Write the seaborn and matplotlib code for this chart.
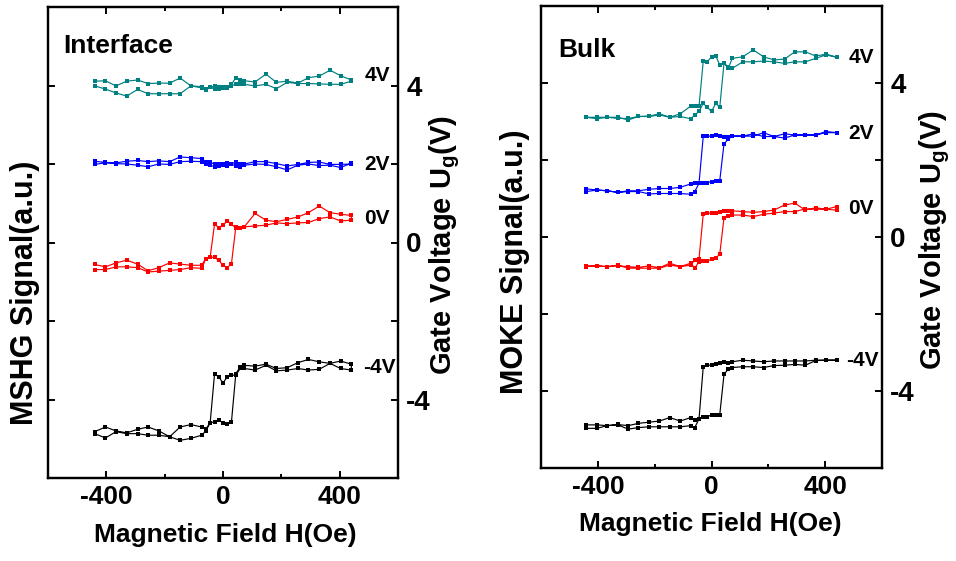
import matplotlib
matplotlib.use("Agg")
import matplotlib.pyplot as plt
import seaborn as sns
import pandas as pd

# ---------------- data ----------------
H_FIELD = [-440, -403, -367, -330, -293, -257, -220, -183, -147, -110, -73, -59, -44, -29, -15,
           0, 15, 29, 44, 59, 73, 110, 147, 183, 220, 257, 293, 330, 367, 403, 440]

# Interface (MSHG) - branches listed in ascending field order
IF_4V_A = [4.11, 4.12, 3.99, 4.11, 4.14, 4.05, 4.06, 4.06, 4.19, 3.99, 3.97, 3.92, 3.97, 3.90, 3.95,
           3.94, 3.97, 4.03, 4.20, 4.13, 4.12, 4.09, 4.29, 4.08, 4.11, 4.06, 4.20, 4.24, 4.39, 4.25, 4.14]
IF_4V_B = [3.99, 3.91, 3.81, 3.73, 3.90, 3.79, 3.79, 3.79, 3.79, 3.99, 3.94, 3.88, 3.95, 3.99, 3.92,
           3.97, 3.93, 3.99, 4.03, 4.05, 4.03, 3.99, 4.03, 3.92, 4.08, 4.05, 4.05, 4.04, 4.03, 4.03, 4.11]
IF_2V_A = [2.07, 2.04, 2.03, 2.07, 2.09, 2.06, 2.08, 2.06, 2.18, 2.16, 2.14, 2.06, 2.04, 2.00, 1.95,
           1.99, 2.03, 2.00, 2.06, 2.00, 2.00, 2.06, 2.06, 2.01, 1.95, 1.99, 2.04, 2.05, 1.99, 1.99, 2.00]
IF_2V_B = [1.99, 2.03, 2.01, 2.00, 1.97, 1.93, 2.00, 1.99, 2.06, 2.07, 2.06, 2.01, 1.97, 1.93, 1.99,
           1.97, 1.95, 1.99, 1.96, 1.93, 1.97, 2.00, 1.99, 1.93, 1.85, 1.97, 2.00, 1.96, 1.97, 1.91, 2.02]
IF_0V_UP = [-0.56, -0.62, -0.52, -0.45, -0.55, -0.72, -0.64, -0.52, -0.55, -0.58, -0.58, -0.41, -0.37, -0.38, -0.45,
            -0.58, -0.64, -0.54, 0.40, 0.37, 0.40, 0.74, 0.57, 0.53, 0.59, 0.65, 0.76, 0.93, 0.76, 0.72, 0.69]
IF_0V_DOWN = [-0.69, -0.69, -0.62, -0.62, -0.64, -0.75, -0.73, -0.71, -0.69, -0.64, -0.66, -0.41, -0.37, 0.47, 0.38,
              0.44, 0.55, 0.47, 0.36, 0.38, 0.40, 0.42, 0.44, 0.50, 0.48, 0.50, 0.51, 0.61, 0.65, 0.55, 0.57]
IF_M4V_UP = [-4.82, -4.70, -4.80, -4.85, -4.76, -4.70, -4.80, -4.95, -4.70, -4.64, -4.70, -4.76, -4.59, -4.57, -4.53,
             -4.59, -4.63, -4.57, -3.34, -3.17, -3.13, -3.15, -3.10, -3.21, -3.19, -3.06, -2.98, -3.04, -3.08, -3.02, -3.10]
IF_M4V_DOWN = [-4.87, -4.98, -4.82, -4.87, -4.87, -4.91, -4.91, -4.95, -5.04, -4.99, -4.91, -4.80, -4.59, -3.35, -3.42,
               -3.58, -3.42, -3.38, -3.38, -3.21, -3.21, -3.25, -3.13, -3.27, -3.25, -3.21, -3.25, -3.23, -3.08, -3.21, -3.25]

# Bulk (MOKE)
BK_4V_UP = [3.11, 3.07, 3.11, 3.11, 3.04, 3.13, 3.13, 3.17, 3.11, 3.13, 3.07, 3.17, 3.26, 3.47, 3.37,
            3.26, 3.47, 3.37, 4.51, 4.42, 4.38, 4.55, 4.55, 4.57, 4.55, 4.51, 4.55, 4.55, 4.64, 4.73, 4.67]
BK_4V_DOWN = [3.11, 3.11, 3.11, 3.08, 3.08, 3.13, 3.14, 3.20, 3.11, 3.20, 3.40, 3.40, 3.39, 4.57, 4.55,
              4.68, 4.70, 4.47, 4.53, 4.38, 4.64, 4.68, 4.86, 4.68, 4.60, 4.62, 4.81, 4.81, 4.70, 4.75, 4.67]
BK_2V_UP = [1.25, 1.22, 1.20, 1.16, 1.18, 1.18, 1.12, 1.13, 1.13, 1.13, 1.11, 1.18, 1.39, 1.41, 1.41,
            1.44, 1.46, 1.46, 2.42, 2.54, 2.62, 2.62, 2.62, 2.71, 2.61, 2.68, 2.65, 2.65, 2.65, 2.74, 2.71]
BK_2V_DOWN = [1.18, 1.22, 1.20, 1.16, 1.20, 1.20, 1.24, 1.26, 1.26, 1.29, 1.38, 1.39, 1.39, 2.62, 2.62,
              2.62, 2.65, 2.62, 2.61, 2.61, 2.62, 2.62, 2.68, 2.61, 2.61, 2.57, 2.65, 2.65, 2.65, 2.71, 2.71]
BK_0V_UP = [-0.75, -0.75, -0.77, -0.75, -0.77, -0.79, -0.75, -0.80, -0.68, -0.77, -0.68, -0.81, -0.64, -0.62, -0.62,
            -0.58, -0.54, -0.45, 0.50, 0.55, 0.57, 0.57, 0.53, 0.59, 0.62, 0.66, 0.66, 0.73, 0.72, 0.72, 0.70]
BK_0V_DOWN = [-0.77, -0.75, -0.77, -0.73, -0.81, -0.81, -0.81, -0.81, -0.73, -0.77, -0.73, -0.60, -0.57, 0.60, 0.62,
              0.62, 0.62, 0.64, 0.68, 0.68, 0.68, 0.66, 0.64, 0.66, 0.70, 0.83, 0.88, 0.70, 0.76, 0.72, 0.79]
BK_M4V_UP = [-4.97, -4.97, -4.90, -4.88, -4.99, -4.95, -4.93, -4.93, -4.93, -4.93, -4.90, -4.95, -4.73, -4.67, -4.67,
             -4.62, -4.62, -4.62, -3.57, -3.43, -3.39, -3.37, -3.37, -3.39, -3.34, -3.33, -3.31, -3.33, -3.21, -3.20, -3.20]
BK_M4V_DOWN = [-4.88, -4.88, -4.90, -4.87, -4.90, -4.84, -4.81, -4.78, -4.69, -4.78, -4.69, -4.75, -4.73, -3.37, -3.33,
               -3.33, -3.31, -3.28, -3.24, -3.28, -3.24, -3.20, -3.22, -3.24, -3.22, -3.22, -3.22, -3.22, -3.20, -3.20, -3.20]

GATE_LABELS = ["4V", "2V", "0V", "-4V"]
COLORS = ["#008080", "#0000FF", "#FF0000", "#000000"]
X_TICKS = [-400, 0, 400]
Y_TICKS = [-4, -2, 0, 2, 4]
Y_TICK_LABELS = ["-4", "", "0", "", "4"]

# ---------------- style ----------------
sns.set_style("ticks")
plt.rcParams["font.family"] = ["Liberation Sans", "DejaVu Sans"]
plt.rcParams["font.weight"] = "bold"
plt.rcParams["axes.unicode_minus"] = False
plt.rcParams["text.color"] = "black"
plt.rcParams["axes.labelcolor"] = "black"
plt.rcParams["axes.edgecolor"] = "black"
plt.rcParams["xtick.color"] = "black"
plt.rcParams["ytick.color"] = "black"
plt.rcParams["mathtext.fontset"] = "custom"
plt.rcParams["mathtext.rm"] = "Liberation Sans:bold"
plt.rcParams["mathtext.it"] = "Liberation Sans:bold"
plt.rcParams["mathtext.bf"] = "Liberation Sans:bold"
plt.rcParams["mathtext.default"] = "regular"

W, Hpx = 956, 561
fig = plt.figure(figsize=(W / 100, Hpx / 100), dpi=100)
axL = fig.add_axes([48 / W, 1 - 478 / Hpx, 350 / W, 471 / Hpx])
axR = fig.add_axes([541 / W, 1 - 468 / Hpx, 341 / W, 462 / Hpx])


def loop_frame(up, down):
    xs = list(H_FIELD) + list(H_FIELD)[::-1]
    ys = list(up) + list(down)[::-1]
    return pd.DataFrame({"H": xs, "y": ys})


def draw(ax, branches, label_pos):
    for (up, down), color, lab, (lx, ly) in zip(branches, COLORS, GATE_LABELS, label_pos):
        df = loop_frame(up, down)
        sns.lineplot(data=df, x="H", y="y", sort=False, estimator=None, ax=ax,
                     color=color, linewidth=0.85, marker="s", markersize=3.3,
                     markeredgewidth=0, markeredgecolor=color)
        ax.text(lx, ly, lab, ha="left", va="center", fontsize=15, fontweight="bold", color="black")
    ax.set_xlim(-600, 600)
    ax.set_ylim(-6, 6)
    ax.set_xticks(X_TICKS)
    ax.set_xticks([-200, 200], minor=True)
    ax.set_xticklabels([str(v) for v in X_TICKS])
    ax.set_yticks(Y_TICKS)
    ax.set_xlabel("")
    ax.set_ylabel("")
    ax.tick_params(axis="both", which="major", direction="in", length=5, width=1.4,
                   top=True, bottom=True, left=True, right=False, labelleft=False,
                   labelsize=19, pad=5, colors="black")
    ax.tick_params(axis="x", which="minor", direction="in", length=3, width=1.4, top=True, bottom=True)
    for s in ax.spines.values():
        s.set_linewidth(1.6)
        s.set_visible(True)
        s.set_color("black")
    tw = ax.twinx()
    tw.set_ylim(-6, 6)
    tw.set_yticks(Y_TICKS)
    tw.set_yticklabels(Y_TICK_LABELS)
    tw.tick_params(axis="y", direction="in", length=5, width=1.4, labelsize=20, pad=6, colors="black")
    for s in tw.spines.values():
        s.set_linewidth(1.6)
        s.set_color("black")
    return tw


draw(axL, [(IF_4V_A, IF_4V_B), (IF_2V_A, IF_2V_B), (IF_0V_UP, IF_0V_DOWN), (IF_M4V_UP, IF_M4V_DOWN)],
     [(485, 4.25), (485, 1.99), (485, 0.61), (479, -3.18)])
draw(axR, [(BK_4V_UP, BK_4V_DOWN), (BK_2V_UP, BK_2V_DOWN), (BK_0V_UP, BK_0V_DOWN), (BK_M4V_UP, BK_M4V_DOWN)],
     [(481, 4.65), (481, 2.70), (481, 0.75), (475, -3.22)])

# labels
fig.text(63 / W, 1 - 53 / Hpx, "Interface", fontsize=19, fontweight="bold", ha="left", va="baseline")
fig.text(558 / W, 1 - 57 / Hpx, "Bulk", fontsize=19, fontweight="bold", ha="left", va="baseline")
fig.text(225 / W, 1 - 535 / Hpx, "Magnetic Field H(Oe)", fontsize=19, fontweight="bold", ha="center", va="center")
fig.text(710 / W, 1 - 524 / Hpx, "Magnetic Field H(Oe)", fontsize=19, fontweight="bold", ha="center", va="center")
fig.text(25 / W, 1 - 293 / Hpx, "MSHG Signal(a.u.)", fontsize=22, fontweight="bold", rotation=90,
         ha="center", va="center")
fig.text(515 / W, 1 - 262 / Hpx, "MOKE Signal(a.u.)", fontsize=22, fontweight="bold", rotation=90,
         ha="center", va="center")
fig.text(445 / W, 1 - 245 / Hpx, "Gate Voltage U$_{g}$(V)", fontsize=21, fontweight="bold", rotation=90,
         ha="center", va="center")
fig.text(935 / W, 1 - 240 / Hpx, "Gate Voltage U$_{g}$(V)", fontsize=21, fontweight="bold", rotation=90,
         ha="center", va="center")

fig.savefig("out.png", dpi=100)
